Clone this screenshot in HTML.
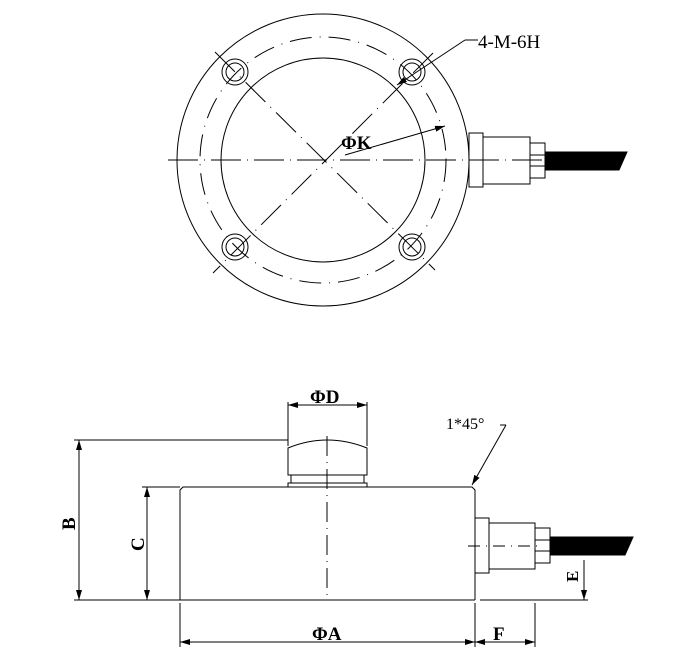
<!DOCTYPE html>
<html><head><meta charset="utf-8"><style>
html,body{margin:0;padding:0;background:#fff}
svg{display:block}
text{font-family:"Liberation Serif","DejaVu Serif",serif;fill:#000}
</style></head><body>
<svg width="690" height="670" viewBox="0 0 690 670" xmlns="http://www.w3.org/2000/svg">
<defs>
<marker id="a" viewBox="0 0 10 6" refX="10" refY="3" markerWidth="10" markerHeight="6" orient="auto-start-reverse" markerUnits="userSpaceOnUse"><path d="M0,0 L10,3 L0,6 z" fill="#000"/></marker>
</defs>
<g fill="none" stroke="#000" stroke-width="1">
<circle cx="323" cy="160" r="146"/>
<circle cx="323" cy="160" r="102"/>
<circle cx="323" cy="160" r="123" stroke-dasharray="22,8,1,8"/>
<g>
<circle cx="235" cy="72" r="13"/><circle cx="235" cy="72" r="9"/>
<circle cx="412" cy="72" r="13"/><circle cx="412" cy="72" r="9"/>
<circle cx="235" cy="247" r="13"/><circle cx="235" cy="247" r="9"/>
<circle cx="412" cy="247" r="13"/><circle cx="412" cy="247" r="9"/>
</g>
<line x1="168" y1="160" x2="560" y2="160" stroke-dasharray="30,6,1,6"/>
<line x1="215" y1="52" x2="435" y2="270" stroke-dasharray="28,7,1,7"/>
<line x1="433" y1="53" x2="213" y2="273" stroke-dasharray="28,7,1,7"/>
<rect x="469" y="133" width="14" height="54"/>
<rect x="483" y="137" width="47" height="47"/>
<rect x="530" y="143" width="15" height="35"/>
<line x1="530" y1="155" x2="545" y2="155"/><line x1="530" y1="166" x2="545" y2="166"/>
<polygon points="545,152 627,152 619,170 545,170" fill="#000"/>
<line x1="478" y1="40" x2="465" y2="40"/>
<line x1="465" y1="40" x2="397" y2="85" marker-end="url(#a)"/>
<line x1="345" y1="155" x2="445" y2="126" marker-end="url(#a)"/>

<path d="M180,600 L180,490 L183,487 L472,487 L475,490 L475,600"/>
<rect x="291" y="475" width="73" height="8"/>
<rect x="288" y="483" width="79" height="4"/>
<path d="M288,475 L288,448 Q327,432 367,448 L367,475 Z"/>
<line x1="327" y1="436" x2="327" y2="600" stroke-dasharray="20,6,1,6"/>
<rect x="475" y="518" width="14" height="55"/>
<rect x="489" y="523" width="46" height="46"/>
<rect x="535" y="528" width="15" height="35"/>
<line x1="535" y1="540" x2="550" y2="540"/><line x1="535" y1="551" x2="550" y2="551"/>
<polygon points="550,537 633,537 625,555 550,555" fill="#000"/>
<line x1="468" y1="546" x2="540" y2="546" stroke-dasharray="12,6,1,6"/>
<line x1="74" y1="600" x2="475" y2="600"/>
<line x1="480" y1="600" x2="588" y2="600"/>
<line x1="74" y1="440" x2="288" y2="440"/>
<line x1="79" y1="440" x2="79" y2="600" marker-start="url(#a)" marker-end="url(#a)"/>
<line x1="142" y1="487" x2="180" y2="487"/>
<line x1="147" y1="487" x2="147" y2="600" marker-start="url(#a)" marker-end="url(#a)"/>
<line x1="288" y1="402" x2="288" y2="446"/>
<line x1="367" y1="402" x2="367" y2="446"/>
<line x1="288" y1="405" x2="367" y2="405" marker-start="url(#a)" marker-end="url(#a)"/>
<line x1="506" y1="425" x2="500" y2="425"/>
<line x1="506" y1="425" x2="472" y2="485" marker-end="url(#a)"/>
<line x1="584" y1="560" x2="584" y2="600" marker-end="url(#a)"/>
<line x1="180" y1="603" x2="180" y2="647"/>
<line x1="475" y1="603" x2="475" y2="647"/>
<line x1="535" y1="603" x2="535" y2="647"/>
<line x1="180" y1="642" x2="475" y2="642" marker-start="url(#a)" marker-end="url(#a)"/>
<line x1="475" y1="642" x2="535" y2="642" marker-start="url(#a)" marker-end="url(#a)"/>
</g>
<text x="478" y="48" font-size="19">4-M-6H</text>
<text x="341" y="149" font-size="19" font-weight="bold">ΦK</text>
<text x="310" y="403" font-size="19" font-weight="bold">ΦD</text>
<text x="446" y="429" font-size="16">1*45°</text>
<text x="312" y="640" font-size="19" font-weight="bold">ΦA</text>
<text x="493" y="640" font-size="19" font-weight="bold">F</text>
<text x="0" y="0" font-size="19" font-weight="bold" transform="translate(75 530) rotate(-90)">B</text>
<text x="0" y="0" font-size="19" font-weight="bold" transform="translate(144 551) rotate(-90)">C</text>
<text x="0" y="0" font-size="17" font-weight="bold" transform="translate(578 582) rotate(-90)">E</text>
</svg>
</body></html>
